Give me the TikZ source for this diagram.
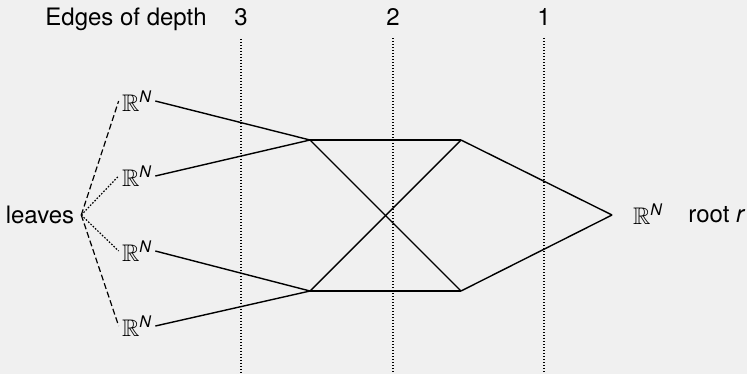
\documentclass[tikz,border=0pt]{standalone}
\usepackage{amsmath,amssymb}
\usepackage{fontspec}
\setmainfont{TeX Gyre Heros}
\definecolor{bg}{HTML}{F0F0F0}
\newcommand{\RN}{$\mathbb{R}^{\text{\itshape N}}$}
\begin{document}
\begin{tikzpicture}[x=0.5pt,y=-0.5pt,
  txt/.style={font=\fontsize{12}{14}\selectfont},
  leaf/.style={txt,inner sep=1.5pt},
  depthlabel/.style={txt,anchor=base,inner sep=6pt},
  edge/.style={line width=0.7pt},
  guide/.style={line width=0.6pt,dash pattern=on 0.5pt off 1pt},
  dashlink/.style={line width=0.6pt,dash pattern=on 3pt off 1.5pt},
  dotlink/.style={line width=0.6pt,dash pattern=on 0.8pt off 0.8pt}]
\fill[bg] (0,0) rectangle (747,374);
\useasboundingbox (0,0) rectangle (747,374);
% header
\node[txt,anchor=base west,inner sep=0pt] (hdr) at (45,26) {Edges of depth};
\node[depthlabel] (d3) at (241,26) {3};
\node[depthlabel] (d2) at (393,26) {2};
\node[depthlabel] (d1) at (544,26) {1};
\coordinate (b3) at (241,374);
\coordinate (b2) at (393,374);
\coordinate (b1) at (544,374);
\draw[guide] (d3.south) -- (b3);
\draw[guide] (d2.south) -- (b2);
\draw[guide] (d1.south) -- (b1);
% leaves
\node[txt] (leaves) at (40,215) {leaves};
\node[leaf] (l1) at (137,101) {\RN};
\node[leaf] (l2) at (137,176) {\RN};
\node[leaf] (l3) at (137,251) {\RN};
\node[leaf] (l4) at (137,326) {\RN};
\draw[dashlink] (leaves.east) -- (l1.west);
\draw[dotlink] (leaves.east) -- (l2.west);
\draw[dotlink] (leaves.east) -- (l3.west);
\draw[dashlink] (leaves.east) -- (l4.west);
% inner vertices
\coordinate (A) at (310,140);
\coordinate (B) at (310,291);
\coordinate (C) at (461,140);
\coordinate (D) at (461,291);
\coordinate (P) at (612,215);
\draw[edge] (l1.east) -- (A);
\draw[edge] (l2.east) -- (A);
\draw[edge] (l3.east) -- (B);
\draw[edge] (l4.east) -- (B);
\draw[edge] (A) -- (C);
\draw[edge] (B) -- (D);
\draw[edge] (A) -- (D);
\draw[edge] (B) -- (C);
\draw[edge] (C) -- (P);
\draw[edge] (D) -- (P);
% root
\node[txt,inner sep=1pt] (rootR) at (648,214) {\RN};
\node[txt,anchor=west,inner sep=0pt] (rootlbl) at (688,215) {root \textit{r}};
\end{tikzpicture}
\end{document}
